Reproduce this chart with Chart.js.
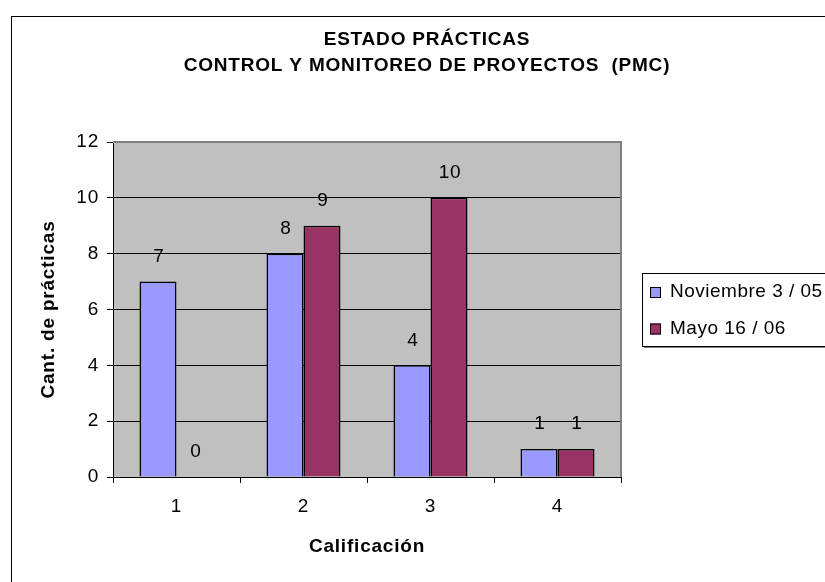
<!DOCTYPE html>
<html>
<head>
<meta charset="utf-8">
<script src="https://cdn.jsdelivr.net/npm/chart.js@4/dist/chart.umd.min.js"></script>
<style>
  html, body { margin: 0; padding: 0; background: #fff; overflow: hidden; }
  #wrap { position: relative; width: 825px; height: 582px; }
</style>
</head>
<body>
<div id="wrap"><canvas id="c" width="825" height="582"></canvas></div>
<script>
// Data
const categories = ['1', '2', '3', '4'];
const seriesNames = ['Noviembre 3 / 05', 'Mayo 16 / 06'];
const nov05 = [7, 8, 4, 1];
const may06 = [0, 9, 10, 1];
const yTicks = [0, 2, 4, 6, 8, 10, 12];
const titleLines = ['ESTADO PRÁCTICAS', 'CONTROL Y MONITOREO DE PROYECTOS  (PMC)'];
const xTitle = 'Calificación';
const yTitle = 'Cant. de prácticas';

const FONT = "'Liberation Sans', Arial, sans-serif";
const COLORS = ['#9999FF', '#993366'];

// Page frame, plot background, title, value labels and legend box
const decor = {
  id: 'decor',
  beforeDraw(chart) {
    const ctx = chart.ctx;
    const a = chart.chartArea;
    ctx.letterSpacing = '0.8px';
    ctx.save();
    ctx.fillStyle = '#ffffff';
    ctx.fillRect(0, 0, chart.width, chart.height);
    ctx.strokeStyle = '#000000';
    ctx.lineWidth = 1;
    ctx.strokeRect(11.5, 16.5, 1000, 800);
    ctx.fillStyle = '#C0C0C0';
    ctx.fillRect(a.left, a.top, a.right - a.left, a.bottom - a.top);
    ctx.restore();
  },
  afterDatasetsDraw(chart) {
    const ctx = chart.ctx;
    ctx.save();
    ctx.font = '19px ' + FONT;
    ctx.fillStyle = '#000';
    ctx.textAlign = 'center';
    ctx.textBaseline = 'middle';
    chart.data.datasets.forEach((ds, i) => {
      chart.getDatasetMeta(i).data.forEach((el, j) => {
        ctx.fillText(String(ds.data[j]), el.x + 1, el.y - 25);
      });
    });
    ctx.restore();
  },
  afterDraw(chart) {
    const ctx = chart.ctx;
    const a = chart.chartArea;
    ctx.save();
    // plot area border (top and right; left/bottom are the axes)
    ctx.strokeStyle = '#808080';
    ctx.lineWidth = 2;
    ctx.beginPath();
    ctx.moveTo(a.left, a.top);
    ctx.lineTo(a.right, a.top);
    ctx.lineTo(a.right, a.bottom);
    ctx.stroke();

    // title
    ctx.fillStyle = '#000';
    ctx.textAlign = 'center';
    ctx.textBaseline = 'middle';
    ctx.font = 'bold 19px ' + FONT;
    ctx.fillText(titleLines[0], 427, 40);
    ctx.fillText(titleLines[1], 427, 66);

    // legend
    ctx.fillStyle = '#fff';
    ctx.fillRect(642, 273, 400, 73);
    ctx.strokeStyle = '#000';
    ctx.lineWidth = 1;
    ctx.strokeRect(642.5, 273.5, 400, 73);
    ctx.strokeStyle = '#808080';
    ctx.beginPath();
    ctx.moveTo(644, 347.5);
    ctx.lineTo(1000, 347.5);
    ctx.stroke();
    ctx.letterSpacing = '0.5px';
    ctx.font = '19px ' + FONT;
    ctx.textAlign = 'left';
    const rows = [292, 328.5];
    chart.data.datasets.forEach((ds, i) => {
      const y = rows[i];
      ctx.fillStyle = ds.backgroundColor;
      ctx.fillRect(650, y - 5, 11, 11);
      ctx.strokeStyle = '#000';
      ctx.strokeRect(650.5, y - 4.5, 10, 10);
      ctx.fillStyle = '#000';
      ctx.fillText(ds.label, 670, y);
    });
    ctx.restore();
  }
};

new Chart(document.getElementById('c'), {
  type: 'bar',
  data: {
    labels: categories,
    datasets: [
      { label: seriesNames[0], data: nov05, backgroundColor: COLORS[0], borderColor: '#000', borderWidth: 1.5 },
      { label: seriesNames[1], data: may06, backgroundColor: COLORS[1], borderColor: '#000', borderWidth: 1.5 }
    ]
  },
  options: {
    responsive: false,
    animation: false,
    events: [],
    layout: { padding: { left: 0, top: 142, right: 204, bottom: 24 } },
    datasets: { bar: { categoryPercentage: 0.583, barPercentage: 1.0 } },
    plugins: {
      legend: { display: false },
      title: { display: false },
      tooltip: { enabled: false }
    },
    scales: {
      x: {
        afterFit(s) { s.height = 81; },
        grid: { offset: true, drawOnChartArea: false, drawTicks: true, tickLength: 6, color: '#000' },
        border: { display: true, color: '#000', width: 1 },
        ticks: { color: '#000', font: { family: FONT, size: 19 }, padding: 12, maxRotation: 0 },
        title: { display: true, text: xTitle, color: '#000', font: { family: FONT, size: 19, weight: 'bold' }, padding: { top: 0, bottom: 0 } }
      },
      y: {
        min: 0,
        max: 12,
        afterFit(s) { s.width = 113; },
        afterBuildTicks(s) { s.ticks = yTicks.map(v => ({ value: v })); },
        grid: { color: '#000', lineWidth: 1, drawTicks: true, tickLength: 6 },
        border: { display: true, color: '#000', width: 1 },
        ticks: { color: '#000', font: { family: FONT, size: 19 }, padding: 8 },
        title: { display: true, text: yTitle, color: '#000', font: { family: FONT, size: 19, weight: 'bold' }, padding: { top: 37, bottom: 0 } }
      }
    }
  },
  plugins: [decor]
});
</script>
</body>
</html>
